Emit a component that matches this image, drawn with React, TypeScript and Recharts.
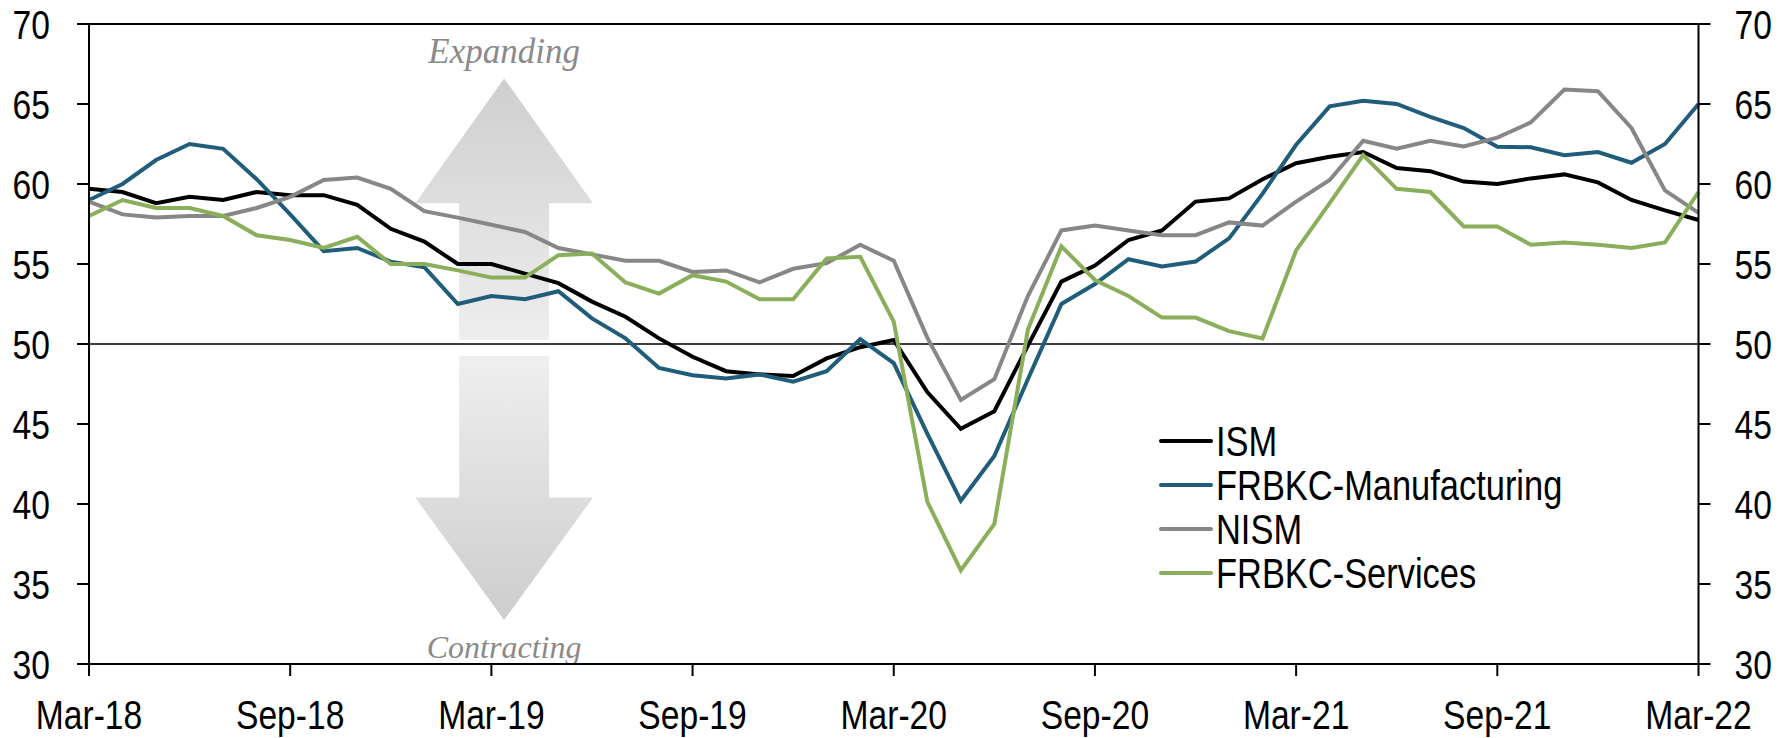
import React from 'react';
import { LineChart, Line, XAxis, YAxis, ReferenceLine, Legend } from 'recharts';

const months = [
  'Mar-18', 'Apr-18', 'May-18', 'Jun-18', 'Jul-18', 'Aug-18', 'Sep-18', 'Oct-18', 'Nov-18', 'Dec-18',
  'Jan-19', 'Feb-19', 'Mar-19', 'Apr-19', 'May-19', 'Jun-19', 'Jul-19', 'Aug-19', 'Sep-19', 'Oct-19', 'Nov-19', 'Dec-19',
  'Jan-20', 'Feb-20', 'Mar-20', 'Apr-20', 'May-20', 'Jun-20', 'Jul-20', 'Aug-20', 'Sep-20', 'Oct-20', 'Nov-20', 'Dec-20',
  'Jan-21', 'Feb-21', 'Mar-21', 'Apr-21', 'May-21', 'Jun-21', 'Jul-21', 'Aug-21', 'Sep-21', 'Oct-21', 'Nov-21', 'Dec-21',
  'Jan-22', 'Feb-22', 'Mar-22',
];

const ism = [
  59.7, 59.5, 58.8, 59.2, 59.0, 59.5, 59.3, 59.3, 58.7, 57.2,
  56.4, 55.0, 55.0, 54.4, 53.8, 52.65, 51.7, 50.35, 49.2, 48.3, 48.1, 48.0,
  49.1, 49.8, 50.25, 47.0, 44.7, 45.8, 49.9, 53.9, 54.9, 56.5, 57.1, 58.9,
  59.1, 60.3, 61.3, 61.7, 62.0, 61.0, 60.8, 60.15, 60.0, 60.35, 60.6, 60.1,
  59.0, 58.35, 57.75,
];

const frbkcManufacturing = [
  59.0, 60.0, 61.5, 62.5, 62.2, 60.3, 58.1, 55.8, 56.0, 55.15,
  54.8, 52.5, 53.0, 52.8, 53.3, 51.6, 50.35, 48.5, 48.05, 47.85, 48.1, 47.65,
  48.3, 50.3, 48.8, 44.4, 40.2, 43.0, 47.8, 52.5, 53.75, 55.3, 54.85, 55.15,
  56.6, 59.4, 62.45, 64.85, 65.2, 65.0, 64.2, 63.5, 62.33, 62.3, 61.8, 62.0,
  61.33, 62.5, 65.0,
];

const nism = [
  58.9, 58.1, 57.9, 58.0, 58.0, 58.5, 59.2, 60.25, 60.4, 59.7,
  58.3, 57.9, 57.45, 57.0, 56.0, 55.6, 55.2, 55.2, 54.5, 54.6, 53.85, 54.7,
  55.05, 56.2, 55.2, 50.4, 46.5, 47.8, 53.0, 57.1, 57.4, 57.1, 56.8, 56.8,
  57.6, 57.4, 58.9, 60.25, 62.7, 62.2, 62.7, 62.35, 62.9, 63.85, 65.9, 65.8,
  63.5, 59.6, 58.2,
];

const frbkcServices = [
  58.0, 59.0, 58.5, 58.5, 58.0, 56.8, 56.5, 56.0, 56.7, 55.0,
  55.0, 54.6, 54.15, 54.15, 55.55, 55.65, 53.85, 53.15, 54.3, 53.9, 52.8, 52.8,
  55.35, 55.45, 51.4, 40.15, 35.85, 38.75, 50.9, 56.1, 54.0, 53.0, 51.65, 51.65,
  50.8, 50.35, 55.85, 58.8, 61.8, 59.7, 59.5, 57.35, 57.35, 56.2, 56.35, 56.2,
  56.0, 56.35, 59.5,
];

const yTicks = [30, 35, 40, 45, 50, 55, 60, 65, 70];
const yDomain: [number, number] = [30, 70];

const series = [
  { key: 'ism', name: 'ISM', color: '#000000', values: ism },
  { key: 'mfg', name: 'FRBKC-Manufacturing', color: '#1f5d7a', values: frbkcManufacturing },
  { key: 'nism', name: 'NISM', color: '#878787', values: nism },
  { key: 'svc', name: 'FRBKC-Services', color: '#8aae5a', values: frbkcServices },
];

const data = months.map((m, i) => {
  const row: Record<string, string | number> = { month: m };
  series.forEach((s) => {
    row[s.key] = s.values[i];
  });
  return row;
});

// layout
const W = 1791;
const H = 738;
const LEFT_W = 89;
const RIGHT_W = 92.5;
const TOP = 24;
const XAXIS_H = 74;
const PLOT_L = LEFT_W;
const PLOT_R = W - RIGHT_W;
const PLOT_T = TOP;
const PLOT_B = H - XAXIS_H;

const FONT = "'Liberation Sans', Arial, sans-serif";
const SERIF = "'Liberation Serif', 'DejaVu Serif', serif";
const NARROW = 0.82; // horizontal condensing to mimic Arial Narrow
const FS = 41;

const xOf = (i: number) => PLOT_L + (i / (months.length - 1)) * (PLOT_R - PLOT_L);
const yOf = (v: number) => PLOT_T + ((yDomain[1] - v) / (yDomain[1] - yDomain[0])) * (PLOT_B - PLOT_T);

// arrow annotation in data units
const arrowCenter = 12.38;
const headHalf = 2.65;
const shaftHalf = 1.34;
const upTip = 66.6;
const upHeadBase = 58.8;
const upShaftBottom = 50.25;
const downShaftTop = 49.25;
const downHeadBase = 40.4;
const downTip = 32.75;
const expandingY = 67.55;
const contractingY = 30.4;

function Background() {
  const cx = xOf(arrowCenter);
  const hl = xOf(arrowCenter - headHalf);
  const hr = xOf(arrowCenter + headHalf);
  const sl = xOf(arrowCenter - shaftHalf);
  const sr = xOf(arrowCenter + shaftHalf);
  const up = [
    [cx, yOf(upTip)],
    [hr, yOf(upHeadBase)],
    [sr, yOf(upHeadBase)],
    [sr, yOf(upShaftBottom)],
    [sl, yOf(upShaftBottom)],
    [sl, yOf(upHeadBase)],
    [hl, yOf(upHeadBase)],
  ];
  const down = [
    [sl, yOf(downShaftTop)],
    [sr, yOf(downShaftTop)],
    [sr, yOf(downHeadBase)],
    [hr, yOf(downHeadBase)],
    [cx, yOf(downTip)],
    [hl, yOf(downHeadBase)],
    [sl, yOf(downHeadBase)],
  ];
  const pts = (p: number[][]) => p.map((q) => q.join(',')).join(' ');
  return (
    <svg width={W} height={H} style={{ position: 'absolute', left: 0, top: 0 }}>
      <defs>
        <linearGradient id="gUp" x1="0" y1="0" x2="0" y2="1">
          <stop offset="0%" stopColor="#cfcfcf" />
          <stop offset="100%" stopColor="#eeeeee" />
        </linearGradient>
        <linearGradient id="gDown" x1="0" y1="0" x2="0" y2="1">
          <stop offset="0%" stopColor="#efefef" />
          <stop offset="100%" stopColor="#cdcdcd" />
        </linearGradient>
      </defs>
      <polygon points={pts(up)} fill="url(#gUp)" />
      <polygon points={pts(down)} fill="url(#gDown)" />
      <text x={cx} y={yOf(expandingY)} textAnchor="middle" fontFamily={SERIF} fontStyle="italic" fontSize={35} fill="#8a8a8a">
        Expanding
      </text>
      <text x={cx} y={yOf(contractingY)} textAnchor="middle" fontFamily={SERIF} fontStyle="italic" fontSize={32} fill="#8a8a8a">
        Contracting
      </text>
    </svg>
  );
}

const LEGEND_ROW = 44;
const LEGEND_LINE = 52;
const LEGEND_PAD = 16;
const LEGEND_W = 560;
const LEGEND_H = LEGEND_ROW * series.length + LEGEND_PAD * 2;

function LegendContent() {
  return (
    <svg width={LEGEND_W} height={LEGEND_H} style={{ display: 'block', overflow: 'visible' }}>
      {series.map((s, i) => {
        const cy = LEGEND_PAD + LEGEND_ROW * i + LEGEND_ROW / 2;
        return (
          <g key={s.key}>
            <line x1={2} x2={LEGEND_LINE} y1={cy} y2={cy} stroke={s.color} strokeWidth={4} strokeLinecap="round" />
            <g transform={`translate(${LEGEND_LINE + 5},${cy}) scale(${NARROW},1)`}>
              <text x={0} y={0} dominantBaseline="central" fontFamily={FONT} fontSize={42} fill="#000">
                {s.name}
              </text>
            </g>
          </g>
        );
      })}
    </svg>
  );
}

type TickProps = { x?: number; y?: number; payload?: { value: string | number } };

function makeTick(anchor: 'start' | 'middle' | 'end', dy: string) {
  return function Tick(props: TickProps) {
    const { x = 0, y = 0, payload } = props;
    return (
      <g transform={`translate(${x},${y}) scale(${NARROW},1)`}>
        <text x={0} y={0} dy={dy} textAnchor={anchor} fontFamily={FONT} fontSize={FS} fill="#000">
          {payload ? payload.value : ''}
        </text>
      </g>
    );
  };
}

const XTick = makeTick('middle', '0.71em');
const YTickLeft = makeTick('end', '0.355em');
const YTickRight = makeTick('start', '0.355em');

const axisLine = { stroke: '#000', strokeWidth: 2 };

export default function App() {
  return (
    <div style={{ position: 'absolute', left: 0, top: 0, width: W, height: H, background: '#fff' }}>
      <Background />
      <div style={{ position: 'absolute', left: 0, top: 0 }}>
        <LineChart
          width={W}
          height={H}
          data={data}
          margin={{ top: TOP, right: 0, bottom: 0, left: 0 }}
          style={{ fontFamily: FONT }}
        >
          <XAxis
            dataKey="month"
            interval={5}
            height={XAXIS_H}
            tickSize={12}
            tickMargin={24}
            tick={(p: TickProps) => <XTick {...p} />}
            axisLine={axisLine}
            tickLine={axisLine}
          />
          <YAxis
            yAxisId="left"
            orientation="left"
            width={LEFT_W}
            domain={yDomain}
            ticks={yTicks}
            type="number"
            allowDataOverflow
            tickSize={12}
            tickMargin={27}
            tick={(p: TickProps) => <YTickLeft {...p} />}
            axisLine={axisLine}
            tickLine={axisLine}
          />
          <YAxis
            yAxisId="right"
            orientation="right"
            width={RIGHT_W}
            domain={yDomain}
            ticks={yTicks}
            type="number"
            allowDataOverflow
            tickSize={12}
            tickMargin={24}
            tick={(p: TickProps) => <YTickRight {...p} />}
            axisLine={axisLine}
            tickLine={axisLine}
          />
          <ReferenceLine yAxisId="left" y={70} stroke="#000" strokeWidth={2} />
          <ReferenceLine yAxisId="left" y={50} stroke="#000" strokeWidth={1.6} />
          {series.map((s) => (
            <Line
              key={s.key}
              yAxisId="left"
              type="linear"
              dataKey={s.key}
              name={s.name}
              stroke={s.color}
              strokeWidth={4}
              dot={false}
              activeDot={false}
              isAnimationActive={false}
            />
          ))}
          <Legend
            layout="horizontal"
            verticalAlign="middle"
            align="center"
            content={() => <LegendContent />}
            wrapperStyle={{ left: 1159, top: 419 - LEGEND_PAD, width: LEGEND_W, height: LEGEND_H, overflow: 'visible' }}
          />
        </LineChart>
      </div>
    </div>
  );
}
